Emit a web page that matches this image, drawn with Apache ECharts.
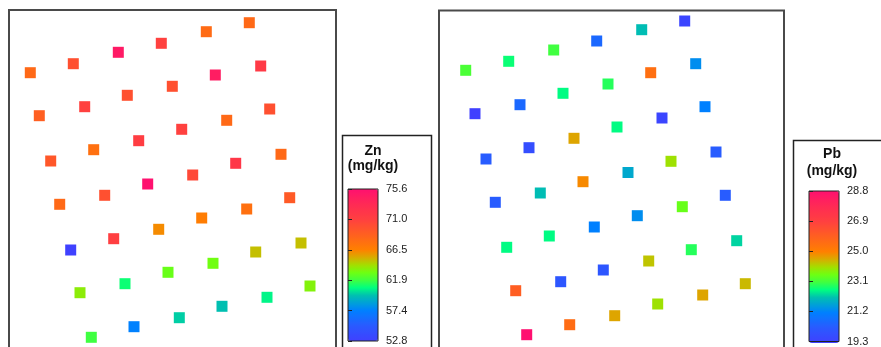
<!DOCTYPE html>
<html>
<head>
<meta charset="utf-8">
<script src="https://cdn.jsdelivr.net/npm/echarts@6/dist/echarts.min.js"></script>
<style>
html,body{margin:0;padding:0;background:#fff;}
#c{width:881px;height:347px;}
</style>
</head>
<body>
<div id="c"></div>
<script>
// Zn sample locations (panel units) and values (mg/kg)
const znX = [240.3,197.3,152.3,109.3,64.3,21.3, 251.7,206.3,163.3,118.3,75.7,30.3, 260.7,217.7,172.7,129.7,84.7,41.7, 272,226.7,183.7,138.7,95.7,50.7, 280.7,237.7,192.7,149.7,104.7,61.7, 292,246.7,204,159,116,71, 301,258,213,170.3,125,82.3];
const znY = [12.7,21.7,33.3,42.3,53.7,62.7, 56,65,76.3,85.3,96.7,105.7, 99,110.3,119.3,130.7,139.7,151, 144.3,153.3,165,174,185.3,194.3, 187.7,199,208,219.3,228.7,240, 233,242,253.3,262.3,273.7,282.7, 276,287.3,296.3,307.7,316.7,327.3];
const znValues = [68.1,68.0,71.0,74.7,69.9,68.1, 71.7,74.5,69.9,69.9,71.0,68.8, 69.9,68.1,71.0,71.3,67.6,69.4, 68.1,72.0,70.4,75.5,69.9,68.1, 69.2,67.6,66.7,66.2,71.1,52.9, 64.9,64.9,63.1,62.9,61.0,63.7, 63.5,60.6,59.6,59.9,57.4,61.9];

// Pb sample locations (panel units) and values (mg/kg)
const pbX = [245.7,202.7,157.7,114.7,69.7,26.7, 256.7,211.7,169,124,81,36, 266,223,178,135,90,47, 277,232,189,144,101.3,56.3, 286.3,243.3,198.3,155.3,110.3,67.7, 297.7,252.3,209.7,164.3,121.7,76.7, 306.3,263.7,218.7,175.7,130.7,87.7];
const pbY = [10.5,19.2,30.5,39.5,50.8,59.8, 53.2,62.2,73.5,82.8,94.2,103.2, 96.2,107.5,116.5,127.8,137.2,148.5, 141.5,150.8,162,171.2,182.5,191.8, 184.8,196.2,205.2,216.5,225.5,236.8, 230.2,239.2,250.5,259.5,271.2,280.2, 273.2,284.5,293.5,305.2,314.2,324.2];
const pbValues = [19.5,22.1,20.6,23.1,22.7,23.2, 21.4,25.5,22.9,22.6,20.6,19.3, 21.2,19.5,22.6,24.6,19.8,20.3, 20.3,24.0,21.8,24.9,22.1,20.3, 20.3,23.5,21.4,21.2,22.6,22.6, 22.3,22.9,24.3,20.1,20.1,26.0, 24.4,24.6,24.0,24.6,25.6,28.8];

// colour-bar tick labels
const znTicks = [52.8,57.4,61.9,66.5,71.0,75.6];
const pbTicks = [19.3,21.2,23.1,25.0,26.9,28.8];

const ramp = ['#4040ff','#354dff','#2a5aff','#156dff','#0080ff','#00a0d8','#00c0b0','#00ff80','#40ff40','#6eff12','#a4de00','#d8ac00','#ff8000','#ff7010','#ff6020','#ff5030','#ff4040','#ff354a','#ff2a55','#ff1d62','#ff1070'];

const FONT = '"Liberation Sans", Arial, sans-serif';
const zip = (xs, ys, vs) => xs.map((x, i) => [x, ys[i], vs[i]]);

const chart = echarts.init(document.getElementById('c'), null, {renderer: 'canvas'});

function legendGrid(left, top) {
  return {left: left, top: top, width: 30, height: 152, show: true, borderColor: '#222', borderWidth: 1, z: 6, backgroundColor: 'transparent'};
}
function legendY(idx, ticks) {
  const mn = ticks[0], mx = ticks[ticks.length - 1];
  return {
    type: 'value', gridIndex: idx, position: 'right', min: mn, max: mx,
    interval: (mx - mn) / (ticks.length - 1),
    axisLine: {show: false},
    axisTick: {show: true, length: 4, lineStyle: {color: '#222', width: 1}},
    splitLine: {show: false},
    axisLabel: {show: true, margin: 8, color: '#222', fontSize: 11, fontFamily: FONT,
      formatter: v => v.toFixed(1)},
    z: 6
  };
}

const option = {
  backgroundColor: '#fff',
  animation: false,
  grid: [
    {left: 9, top: 10, width: 327, height: 337, show: false},
    {left: 439, top: 10.5, width: 345, height: 336.5, show: false},
    legendGrid(348, 189),
    legendGrid(809, 191)
  ],
  xAxis: [
    {type: 'value', gridIndex: 0, min: 0, max: 327, show: false},
    {type: 'value', gridIndex: 1, min: 0, max: 345, show: false},
    {type: 'value', gridIndex: 2, min: 0, max: 1, show: false},
    {type: 'value', gridIndex: 3, min: 0, max: 1, show: false}
  ],
  yAxis: [
    {type: 'value', gridIndex: 0, min: 0, max: 337, inverse: true, show: false},
    {type: 'value', gridIndex: 1, min: 0, max: 336.5, inverse: true, show: false},
    legendY(2, znTicks),
    legendY(3, pbTicks)
  ],
  visualMap: [
    {type: 'continuous', seriesIndex: 0, dimension: 2, min: znTicks[0], max: znTicks[5],
     inRange: {color: ramp}, left: 348, top: 189, itemWidth: 30, itemHeight: 152,
     calculable: false, hoverLink: false, padding: 0, text: null, showLabel: false},
    {type: 'continuous', seriesIndex: 1, dimension: 2, min: pbTicks[0], max: pbTicks[5],
     inRange: {color: ramp}, left: 809, top: 191, itemWidth: 30, itemHeight: 152,
     calculable: false, hoverLink: false, padding: 0, text: null, showLabel: false}
  ],
  series: [
    {type: 'scatter', xAxisIndex: 0, yAxisIndex: 0, symbol: 'rect', symbolSize: 11,
     data: zip(znX, znY, znValues), itemStyle: {opacity: 1}},
    {type: 'scatter', xAxisIndex: 1, yAxisIndex: 1, symbol: 'rect', symbolSize: 11,
     data: zip(pbX, pbY, pbValues), itemStyle: {opacity: 1}}
  ],
  graphic: [
    {type: 'rect', shape: {x: 9, y: 10, width: 327, height: 400}, style: {fill: 'none', stroke: '#4a4a4a', lineWidth: 2}, z: 1},
    {type: 'rect', shape: {x: 439, y: 10.5, width: 345, height: 400}, style: {fill: 'none', stroke: '#4a4a4a', lineWidth: 2}, z: 1},
    {type: 'rect', shape: {x: 342.5, y: 135.5, width: 89, height: 240}, style: {fill: 'none', stroke: '#222', lineWidth: 1.5}, z: 1},
    {type: 'rect', shape: {x: 793.5, y: 140.5, width: 100, height: 240}, style: {fill: 'none', stroke: '#222', lineWidth: 1.5}, z: 1},
    {type: 'text', x: 373, y: 151, style: {text: 'Zn', fill: '#111', font: 'bold 14px ' + FONT, textAlign: 'center', textVerticalAlign: 'middle'}},
    {type: 'text', x: 373, y: 166, style: {text: '(mg/kg)', fill: '#111', font: 'bold 14px ' + FONT, textAlign: 'center', textVerticalAlign: 'middle'}},
    {type: 'text', x: 832, y: 154, style: {text: 'Pb', fill: '#111', font: 'bold 14px ' + FONT, textAlign: 'center', textVerticalAlign: 'middle'}},
    {type: 'text', x: 832, y: 171, style: {text: '(mg/kg)', fill: '#111', font: 'bold 14px ' + FONT, textAlign: 'center', textVerticalAlign: 'middle'}}
  ]
};
chart.setOption(option);
</script>
</body>
</html>
